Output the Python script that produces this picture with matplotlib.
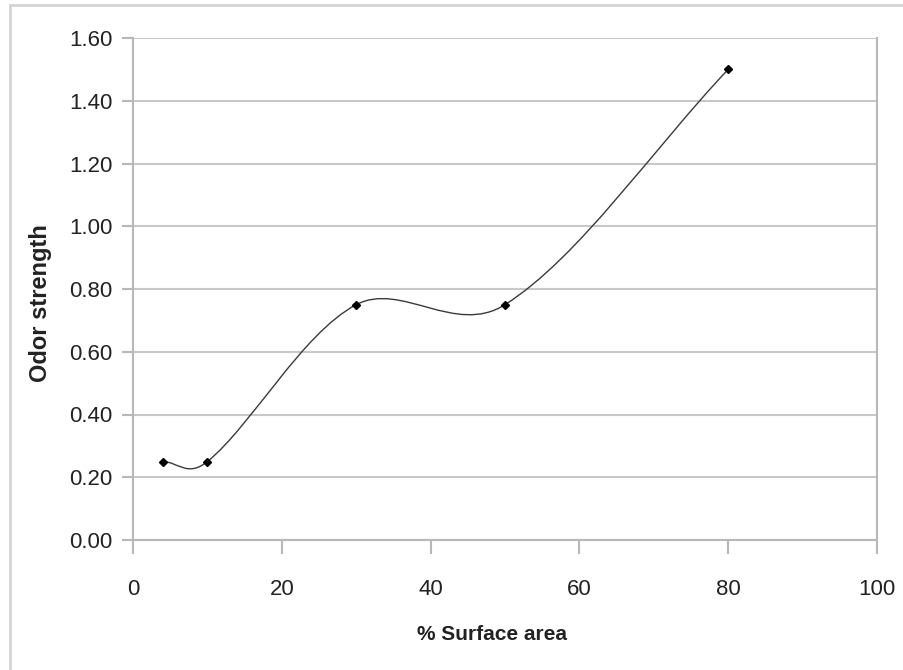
import matplotlib
matplotlib.use("Agg")
import matplotlib.pyplot as plt
from matplotlib.path import Path
from matplotlib.patches import PathPatch, Rectangle
import numpy as np

# Values
surface_area = [4, 10, 30, 50, 80]
odor_strength = [0.25, 0.25, 0.75, 0.75, 1.50]
x_ticks = [0, 20, 40, 60, 80, 100]
y_ticks = [0.0, 0.2, 0.4, 0.6, 0.8, 1.0, 1.2, 1.4, 1.6]

plt.rcParams['font.family'] = ['Liberation Sans', 'DejaVu Sans']

fig = plt.figure(figsize=(9.04, 6.70), dpi=100)
ax = fig.add_axes([133 / 904, 130 / 670, 744 / 904, 502 / 670])
ax.set_xlim(0, 100)
ax.set_ylim(0, 1.6)

# Excel-like smoothed line: cubic bezier segments through the points,
# tangents worked out in screen space and weighted by segment lengths
pts = ax.transData.transform(np.column_stack([surface_area, odor_strength]))
n = len(pts)
seg = np.sqrt(np.linalg.norm(np.diff(pts, axis=0), axis=1))
verts = [pts[0]]
codes = [Path.MOVETO]
for i in range(n - 1):
    p0 = pts[max(i - 1, 0)]
    p1 = pts[i]
    p2 = pts[i + 1]
    p3 = pts[min(i + 2, n - 1)]
    s_prev = seg[i - 1] if i > 0 else 0.0
    s_next = seg[i + 1] if i + 2 < n else 0.0
    c1 = p1 + (p2 - p0) * seg[i] / (s_prev + seg[i]) / 3
    c2 = p2 - (p3 - p1) * seg[i] / (seg[i] + s_next) / 3
    verts += [c1, c2, p2]
    codes += [Path.CURVE4] * 3
verts = ax.transData.inverted().transform(np.array(verts))
ax.add_patch(PathPatch(Path(verts, codes), facecolor='none', edgecolor='#3a3a3a', lw=1.0, zorder=3))
ax.plot(surface_area, odor_strength, linestyle='none', marker='D', markersize=4.5,
        color='black', zorder=4)

ax.set_xticks(x_ticks)
ax.set_yticks(y_ticks)
ax.set_yticklabels([f"{v:.2f}" for v in y_ticks])
ax.yaxis.grid(True, color='#c8c8c8', lw=1.5)
ax.set_axisbelow(True)

for side in ['left', 'bottom', 'right', 'top']:
    ax.spines[side].set_color('#b8b8b8')
    ax.spines[side].set_linewidth(1.5)
ax.spines['top'].set_visible(False)
ax.tick_params(axis='both', colors='#b8b8b8', width=1.5, labelcolor='#222222', labelsize=16)
ax.tick_params(axis='x', length=10, pad=18)
ax.tick_params(axis='y', length=8, pad=6.5)

ax.set_xlabel('% Surface area', fontsize=15, fontweight='bold', color='#222222', va='center')
ax.xaxis.set_label_coords(0.4825, -0.189)
ax.set_ylabel('Odor strength', fontsize=17, fontweight='bold', color='#222222', va='center', ha='center')
ax.yaxis.set_label_coords(-0.125, 0.472)

# outer chart frame (only top and left edges fall inside the image)
fig.patches.append(Rectangle((10 / 904, -0.05), 1.0, 1 - 5 / 670 + 0.05, transform=fig.transFigure,
                             fill=False, edgecolor='#d4d4d4', lw=2))

fig.savefig('out.png', dpi=100)
